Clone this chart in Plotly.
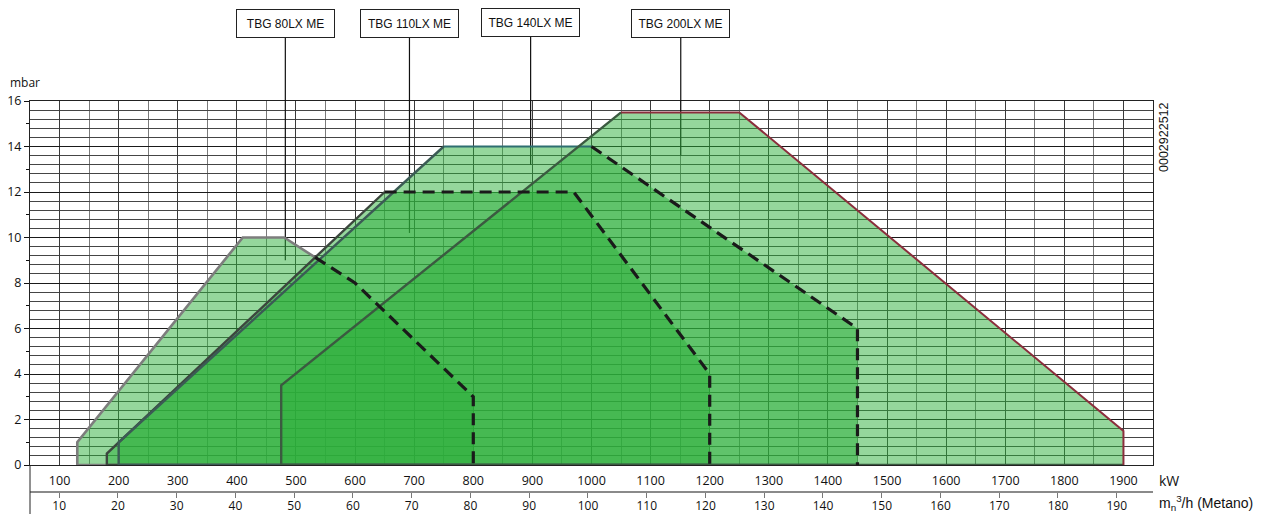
import plotly.graph_objects as go

# ---------------- data ----------------
models = ["TBG 80LX ME", "TBG 110LX ME", "TBG 140LX ME", "TBG 200LX ME"]

kw_80 = [130, 130, 410, 480, 600, 800, 800]
mbar_80 = [0, 1, 10, 10, 8, 3, 0]
kw_110 = [180, 180, 650, 970, 1200, 1200]
mbar_110 = [0, 0.5, 12, 12, 4, 0]
kw_140 = [200, 200, 750, 1000, 1450, 1450]
mbar_140 = [0, 1, 14, 14, 6, 0]
kw_200 = [475, 475, 1050, 1250, 1900, 1900]
mbar_200 = [0, 3.5, 15.5, 15.5, 1.5, 0]

kw_ticks = list(range(100, 2000, 100))
m3h_ticks = list(range(10, 200, 10))
mbar_ticks = list(range(0, 17, 2))
mbar_odd_ticks = list(range(1, 16, 2))
KW_PER_M3H = 9.94
KW_RANGE = [50, 1950]
MBAR_RANGE = [0, 16]

leader_kw = [482, 692, 897, 1151]
leader_mbar = [9.0, 10.2, 13.2, 13.6]
label_box_y = [1.197, 1.197, 1.202, 1.197]
drawing_code = "0002922512"

# ---------------- styles ----------------
FILL = "rgba(44,175,58,0.5)"
GRAY = "#7d7d7d"
DARK = "#3c463e"
DARK140 = "#3b5b55"
TEAL = "#2e6e70"
DARK200 = "#3b5a40"
MAROON = "#8b2e3c"
DASH_COL = "#1a1a1a"
TICK_FONT = dict(family="Open Sans", size=12.5, color="#111")

# the page body has an 8px margin: compensate so the plot lands where the reference has it
BODY = 8
W, H = 1262 - BODY, 514 - BODY
M_L, M_R, M_T, M_B = 30 - BODY, 109, 101 - BODY, 22
plot_h_paper = H - M_T - M_B
y_dom0 = 27 / plot_h_paper


def seg_intersect(p1, p2, p3, p4):
    x1, y1 = p1; x2, y2 = p2; x3, y3 = p3; x4, y4 = p4
    d = (x1 - x2) * (y3 - y4) - (y1 - y2) * (x3 - x4)
    if d == 0:
        return None
    t = ((x1 - x3) * (y3 - y4) - (y1 - y3) * (x3 - x4)) / d
    u = -((x1 - x2) * (y1 - y3) - (y1 - y2) * (x1 - x3)) / d
    if 0 <= t <= 1 and 0 <= u <= 1:
        return (x1 + t * (x2 - x1), y1 + t * (y2 - y1))
    return None


fig = go.Figure()

polys = [(kw_80, mbar_80), (kw_110, mbar_110), (kw_140, mbar_140), (kw_200, mbar_200)]
for (kx, my), name in zip(polys, models):
    fig.add_trace(go.Scatter(x=kx + [kx[0]], y=my + [my[0]], mode="lines", fill="toself",
                             fillcolor=FILL, line=dict(width=0), name=name,
                             hoverinfo="skip", showlegend=False))


def add_path(xs, ys, color, width, dash=None):
    fig.add_trace(go.Scatter(x=xs, y=ys, mode="lines",
                             line=dict(color=color, width=width, dash=dash),
                             hoverinfo="skip", showlegend=False))


# crossing point of the 80 right side with the 110 left edge
p_cross = None
for i in range(3, len(kw_80) - 1):
    p = seg_intersect((kw_80[i], mbar_80[i]), (kw_80[i + 1], mbar_80[i + 1]),
                      (kw_110[1], mbar_110[1]), (kw_110[2], mbar_110[2]))
    if p:
        p_cross = (i, p)
        break
ci, (cx, cy) = p_cross

# 80 outline
add_path([kw_80[-1]] + kw_80[:ci + 1] + [cx], [mbar_80[-1]] + mbar_80[:ci + 1] + [cy], GRAY, 2.6)
# 110 outline
add_path([kw_110[-1]] + kw_110[:3], [mbar_110[-1]] + mbar_110[:3], DARK, 2.4)
# 140 outline
add_path([kw_140[-1]] + kw_140[:3], [mbar_140[-1]] + mbar_140[:3], DARK140, 2.4)
add_path(kw_140[2:4], mbar_140[2:4], TEAL, 2.0)
# 200 outline
add_path([kw_200[-1]] + kw_200[:3], [mbar_200[-1]] + mbar_200[:3], DARK200, 2.4)
add_path(kw_200[2:], mbar_200[2:], MAROON, 2.0)

# dashed limits
DASH = "12px,7px"
add_path([cx] + kw_80[ci + 1:], [cy] + mbar_80[ci + 1:], DASH_COL, 3.2, DASH)
add_path(kw_110[2:], mbar_110[2:], DASH_COL, 3.2, DASH)
add_path(kw_140[3:], mbar_140[3:], DASH_COL, 3.2, DASH)

# dummy traces to register the extra axes
fig.add_trace(go.Scatter(x=[None], y=[None], xaxis="x2", yaxis="y", showlegend=False,
                         mode="lines", hoverinfo="skip"))
fig.add_trace(go.Scatter(x=[None], y=[None], xaxis="x", yaxis="y2", showlegend=False,
                         mode="lines", hoverinfo="skip"))

shapes = []
annotations = []
for name, lk, lm, by in zip(models, leader_kw, leader_mbar, label_box_y):
    shapes.append(dict(type="line", xref="x", yref="y", x0=lk, x1=lk, y0=lm, y1=MBAR_RANGE[1],
                       line=dict(color="#111", width=1.2), layer="between"))
    shapes.append(dict(type="line", xref="x", yref="paper", x0=lk, x1=lk, y0=1, y1=by,
                       line=dict(color="#111", width=1.2), layer="above"))
    annotations.append(dict(text=name, xref="x", yref="paper", x=lk, y=by, showarrow=False,
                            xanchor="center", yanchor="middle", width=95, height=25,
                            bordercolor="#222", borderwidth=1, bgcolor="white",
                            font=dict(family="Liberation Sans", size=12, color="#111")))

# left axis line extension below the plot
shapes.append(dict(type="line", xref="paper", yref="paper", x0=0, x1=0, y0=y_dom0, y1=-0.06,
                   line=dict(color="#222", width=1), layer="above"))

annotations += [
    dict(text="mbar", xref="paper", yref="paper", x=0, y=1, xanchor="left", yanchor="bottom",
         xshift=-22, yshift=8, showarrow=False, font=dict(family="Open Sans", size=12, color="#111")),
    dict(text="kW", xref="paper", yref="paper", x=1, y=12 / plot_h_paper,
         xanchor="left", yanchor="middle", xshift=4, showarrow=False,
         font=dict(family="Open Sans", size=14, color="#111")),
    dict(text="m<sub>n</sub><sup>3</sup>/h (Metano)", xref="paper", yref="paper", x=1,
         y=0, xanchor="left", yanchor="middle", xshift=4, yshift=-11, showarrow=False,
         font=dict(family="Liberation Sans", size=14, color="#111")),
    dict(text=drawing_code, xref="paper", yref="paper", x=1, y=1, xanchor="left",
         yanchor="top", xshift=2, yshift=1, textangle=-90, showarrow=False,
         font=dict(family="Liberation Sans", size=12.5, color="#111")),
]

fig.update_layout(
    width=W, height=H,
    margin=dict(l=M_L, r=M_R, t=M_T, b=M_B, autoexpand=False),
    paper_bgcolor="white", plot_bgcolor="white",
    showlegend=False,
    shapes=shapes, annotations=annotations,
    xaxis=dict(range=KW_RANGE, domain=[0, 1], anchor="y", tickvals=kw_ticks, automargin=False,
               ticks="outside", ticklen=4, tickcolor="rgba(0,0,0,0)",
               showgrid=True, gridcolor="#3a3a3a", gridwidth=1,
               minor=dict(dtick=50, tick0=0, showgrid=True, gridcolor="#7a7a7a", gridwidth=1),
               showline=True, linecolor="#222", linewidth=1, mirror=True, zeroline=False,
               tickfont=TICK_FONT),
    xaxis2=dict(range=[KW_RANGE[0] / KW_PER_M3H, KW_RANGE[1] / KW_PER_M3H], overlaying="x",
                anchor="free", position=0, side="bottom", tickvals=m3h_ticks, automargin=False,
                ticks="outside", ticklen=5, tickcolor="#777", showgrid=False,
                ticklabelstandoff=-2,
                showline=True, linecolor="#8a8a8a", linewidth=1.5, zeroline=False,
                tickfont=dict(family="Open Sans", size=12, color="#111")),
    yaxis=dict(range=MBAR_RANGE, domain=[y_dom0, 1], anchor="x", tickvals=mbar_ticks,
               automargin=False,
               ticks="outside", ticklen=5, tickcolor="#111",
               showgrid=True, gridcolor="#1a1a1a", gridwidth=1,
               minor=dict(dtick=0.4, tick0=0, showgrid=True, gridcolor="#454545", gridwidth=1),
               showline=True, linecolor="#222", linewidth=1, mirror=True, zeroline=False,
               tickfont=TICK_FONT),
    yaxis2=dict(range=MBAR_RANGE, overlaying="y", anchor="x", side="left", automargin=False,
                tickvals=mbar_odd_ticks, ticks="outside", ticklen=3, tickcolor="#111",
                showticklabels=False, showgrid=False, showline=False, zeroline=False),
)

fig.write_html("out.html")
